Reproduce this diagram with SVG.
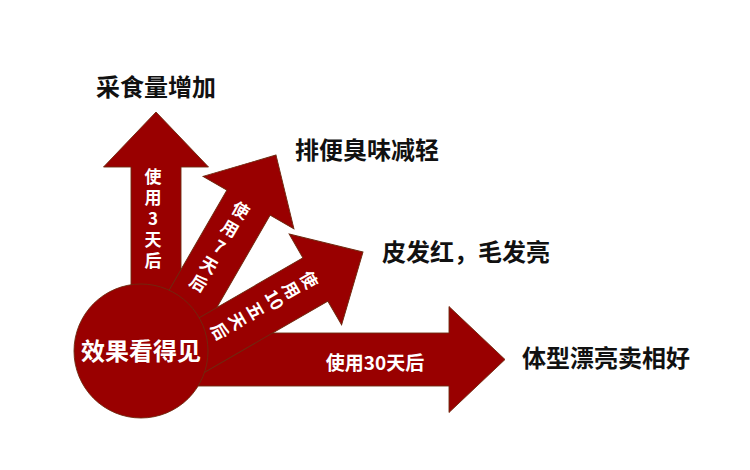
<svg xmlns="http://www.w3.org/2000/svg" xmlns:xlink="http://www.w3.org/1999/xlink" width="750" height="470" viewBox="0 0 750 470">
<defs>
<style>
.arw{fill:#990000;stroke:#6e2a10;stroke-width:0.9}
.hub{fill:#990000;stroke:#6e2a10;stroke-width:0.9}
.lbl{font-family:"Noto Sans CJK SC","Noto Sans",sans-serif;font-weight:700;font-size:24px;fill:#111111;dominant-baseline:central}
.in{font-family:"Noto Sans CJK SC","Noto Sans",sans-serif;font-weight:700;font-size:17px;fill:#ffffff;text-anchor:middle;dominant-baseline:central}
.vert{font-family:"Noto Sans CJK SC","Noto Sans",sans-serif;font-weight:700;font-size:17px;fill:#ffffff;writing-mode:vertical-rl;text-orientation:upright;letter-spacing:4px}
.in4{font-family:"Noto Sans CJK SC","Noto Sans",sans-serif;font-weight:700;font-size:19px;fill:#ffffff;text-anchor:middle;dominant-baseline:central}
.hubt{font-family:"Noto Sans CJK SC","Noto Sans",sans-serif;font-weight:700;font-size:24px;fill:#ffffff;text-anchor:middle;dominant-baseline:central}
</style>
<path id="arrow" d="M0,0 L-55,-52.5 L-55,-25 L-230,-25 L-230,25 L-55,25 L-55,52.5 Z"/>
</defs>
<rect width="750" height="470" fill="#ffffff"/>
<g id="connectors">
<g id="arrow-30">
<path class="arw" d="M505,359.5 L449,306.5 L449,333 L145,333 L145,386 L449,386 L449,412.5 Z"/>
<text class="in4" x="375" y="361">使用30天后</text>
</g>
<g id="arrow-3">
<use href="#arrow" class="arw" transform="translate(156,112) rotate(-90)"/>
<text class="vert" x="153" y="168.5">使用3天后</text>
</g>
<g id="arrow-7">
<use href="#arrow" class="arw" transform="translate(276,155) rotate(-60)"/>
<g transform="translate(276,155) rotate(30)">
<text class="in"><tspan x="-3" y="64">使</tspan><tspan x="-3" y="85">用</tspan><tspan x="-3" y="106">7</tspan><tspan x="-3" y="127">天</tspan><tspan x="-3" y="148">后</tspan></text>
</g>
</g>
<g id="arrow-10">
<use href="#arrow" class="arw" transform="translate(363,252) rotate(-30)"/>
<g transform="translate(363,252) rotate(60)">
<text class="in"><tspan x="-3" y="59">使</tspan><tspan x="-3" y="79.6">用</tspan><tspan x="-3" y="99">10</tspan><tspan x="-3" y="120.8">五</tspan><tspan x="-3" y="141.4">天</tspan><tspan x="-3" y="162">后</tspan></text>
</g>
</g>
</g>
<g id="node-hub">
<circle class="hub" cx="141" cy="351" r="67"/>
<text class="hubt" x="141" y="349">效果看得见</text>
</g>
<g id="node-appetite">
<text class="lbl" x="96" y="85">采食量增加</text>
</g>
<g id="node-odor">
<text class="lbl" x="295" y="148.5">排便臭味减轻</text>
</g>
<g id="node-skin">
<text class="lbl" x="382" y="250">皮发红，毛发亮</text>
</g>
<g id="node-body">
<text class="lbl" x="522" y="356.5">体型漂亮卖相好</text>
</g>
</svg>
